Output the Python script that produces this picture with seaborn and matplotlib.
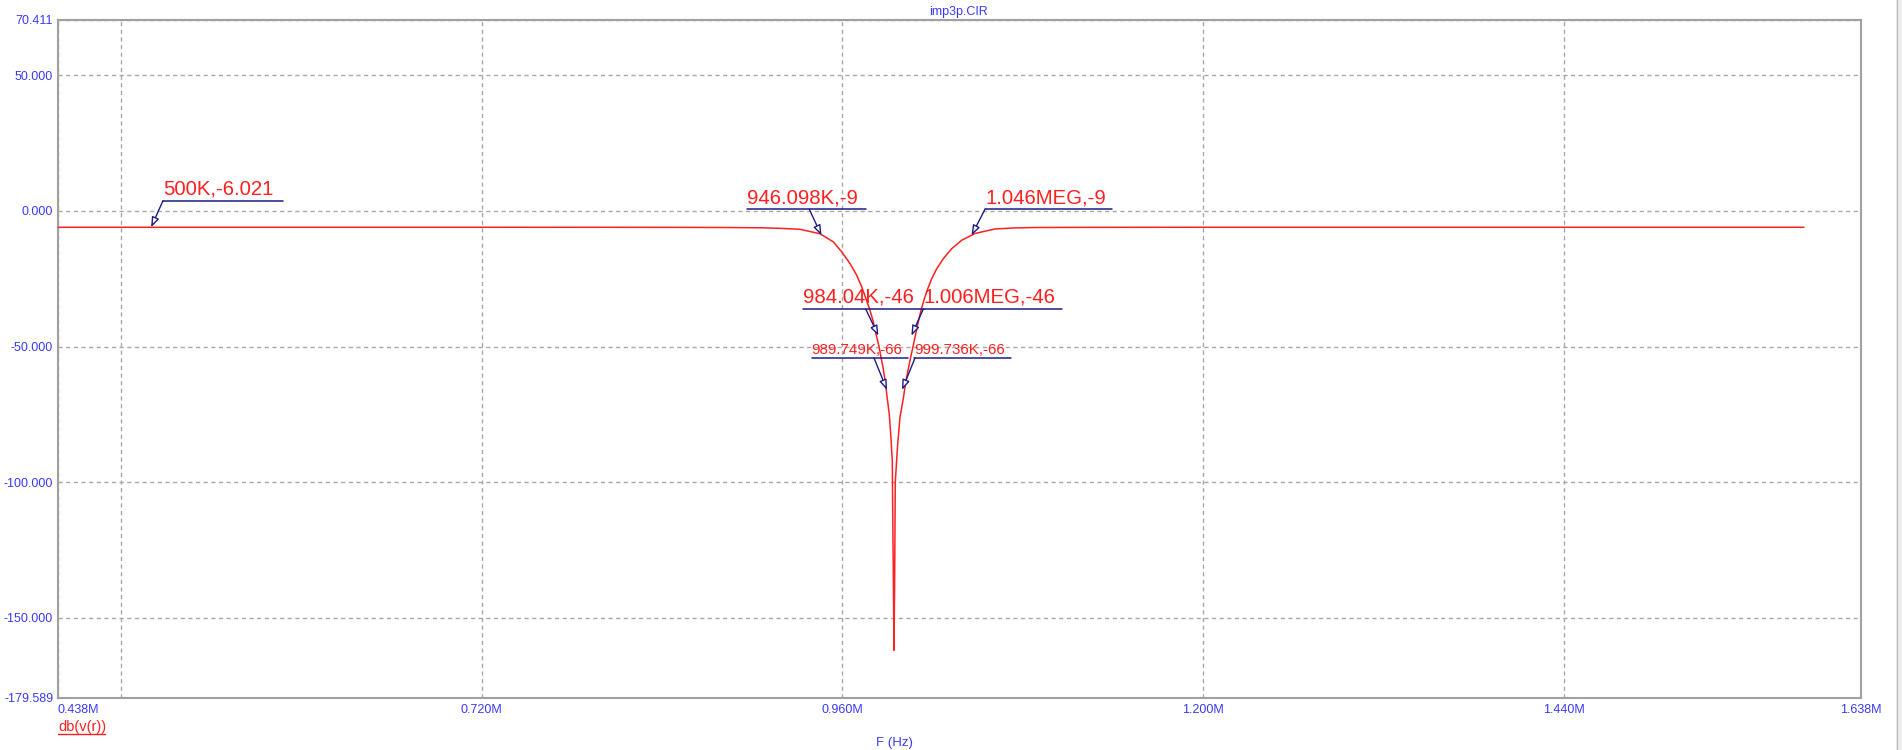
import numpy as np
import pandas as pd
import seaborn as sns
import matplotlib.pyplot as plt
from matplotlib.lines import Line2D
from matplotlib.patches import Rectangle

# -------------------------------
# Data (frequency in MHz, gain in dB)
# -------------------------------
freq_mhz = [
    0.400, 0.438, 0.500, 0.600, 0.700, 0.800, 0.850, 0.880, 0.90523, 0.91854,
    0.93185, 0.94516, 0.95401, 0.95960, 0.96512, 0.96958, 0.97291, 0.97577,
    0.97843, 0.98063, 0.98243, 0.98422, 0.98575, 0.98728, 0.98861, 0.98994,
    0.99128, 0.99241, 0.99327, 0.99354, 0.99394, 0.99440, 0.99487, 0.99507,
    0.99527, 0.99594, 0.99687, 0.99840, 1.00060, 1.00220, 1.00393, 1.00553,
    1.00726, 1.00885, 1.01058, 1.01238, 1.01458, 1.01684, 1.01950, 1.02283,
    1.02722, 1.03281, 1.03947, 1.04832, 1.06163, 1.07494, 1.090, 1.120,
    1.200, 1.300, 1.400, 1.500, 1.600,
]
gain_db = [
    -6.021, -6.021, -6.021, -6.021, -6.021, -6.03, -6.05, -6.10, -6.20, -6.40,
    -6.77, -8.40, -11.4, -15.1, -19.4, -23.7, -28.0, -32.4,
    -36.6, -40.9, -45.3, -49.5, -53.9, -58.2, -63.1, -69.2,
    -75.0, -84.0, -92.0, -110.0, -133.0, -162.0, -133.0, -116.0,
    -100.0, -94.0, -86.0, -76.0, -69.2, -63.1, -58.2, -53.9,
    -49.5, -45.3, -40.9, -36.6, -32.4, -28.7, -25.0, -21.3,
    -17.6, -13.9, -10.8, -8.30, -6.65, -6.25, -6.10, -6.05,
    -6.021, -6.021, -6.021, -6.021, -6.021,
]

# probe markers placed on the trace
marker_freq_mhz = [0.500, 0.946098, 1.046, 0.98404, 1.006, 0.989749, 0.999736]
marker_db = [-6.021, -9.0, -9.0, -46.0, -46.0, -66.0, -66.0]
marker_labels = [
    "500K,-6.021", "946.098K,-9", "1.046MEG,-9", "984.04K,-46",
    "1.006MEG,-46", "989.749K,-66", "999.736K,-66",
]

x_ticks = [0.438, 0.48, 0.72, 0.96, 1.20, 1.44, 1.638]
x_tick_labels = ["0.438M", "", "0.720M", "0.960M", "1.200M", "1.440M", "1.638M"]
y_ticks = [-179.589, -150, -100, -50, 0, 50, 70.411]

df = pd.DataFrame({"F": freq_mhz, "dB": gain_db})

# -------------------------------
# Layout of the marker labels (data coords)
# -------------------------------
label_x = [0.50788, 0.89637, 1.05498, 0.93364, 1.01437, 0.93963, 1.00772]
underline_end = [0.58775, 0.97577, 1.13950, 1.01440, 1.10622, 1.00392, 1.07228]
leader_x = [0.50788, 0.93804, 1.05498, 0.97557, 1.01390, 0.98110, 1.00839]
label_y = [3.78, 0.61, 0.61, -36.15, -36.15, -54.22, -54.22]
label_size = [14.7, 14.7, 14.7, 14.7, 14.7, 10.9, 10.9]

# -------------------------------
# Style
# -------------------------------
sns.set_style("white")
plt.rcParams["font.family"] = ["Liberation Sans", "DejaVu Sans"]

BLUE = "#3a3aff"
RED = "#ff2020"
NAVY = "#1c1c84"
GRID = "#a8a8a8"

fig = plt.figure(figsize=(19.02, 7.5), dpi=100)
W, H = 1902, 750
ax = fig.add_axes([58 / W, 1 - 698 / H, (1861 - 58) / W, (698 - 20) / H])

sns.lineplot(data=df, x="F", y="dB", color=RED, lw=1.1, estimator=None,
             sort=False, ax=ax, zorder=3)

ax.set_xlim(0.438, 1.638)
ax.set_ylim(-179.589, 70.411)
ax.set_xticks(x_ticks)
ax.set_xticklabels(x_tick_labels)
ax.set_yticks(y_ticks)
ax.set_yticklabels([f"{v:.3f}" for v in y_ticks])
ax.tick_params(axis="both", length=0, labelsize=9, colors=BLUE)
ax.tick_params(axis="x", pad=4)
ax.tick_params(axis="y", pad=3.5)
xt = ax.get_xticklabels()
xt[0].set_horizontalalignment("left")
ax.set_xlabel("")
ax.set_ylabel("")

ax.grid(True, color=GRID, lw=1.0, linestyle=(0, (3, 2.5)))
for s in ax.spines.values():
    s.set_color("#a0a0a0")
    s.set_linewidth(1.5)

# -------------------------------
# Probe markers: red label, navy underline, leader with hollow arrowhead
# -------------------------------
for i, txt in enumerate(marker_labels):
    uy = label_y[i]
    ax.add_line(Line2D([label_x[i], underline_end[i]], [uy, uy], color=NAVY,
                       lw=1.1, zorder=4))
    gap = 6 if label_size[i] > 12 else 4
    ax.annotate(txt, xy=(label_x[i], uy), xytext=(0, gap),
                textcoords="offset pixels", ha="left", va="baseline",
                color=RED, fontsize=label_size[i], zorder=5)
    ax.annotate("", xy=(marker_freq_mhz[i], marker_db[i]), xytext=(leader_x[i], uy),
                arrowprops=dict(arrowstyle="-|>,head_length=0.6,head_width=0.22",
                                fc="white", ec=NAVY, lw=1.0,
                                shrinkA=0, shrinkB=0), zorder=5)

# -------------------------------
# Titles and labels around the plot
# -------------------------------
fig.text(958.7 / W, 1 - 12 / H, "imp3p.CIR", color=BLUE, fontsize=9,
         ha="center", va="center")
fig.text(894 / W, 1 - 743 / H, "F (Hz)", color=BLUE, fontsize=9.5,
         ha="center", va="center")
fig.text(58 / W, 1 - 731 / H, "db(v(r))", color=RED, fontsize=10.5,
         ha="left", va="baseline")
fig.add_artist(Line2D([58 / W, 105 / W], [1 - 734 / H, 1 - 734 / H],
                      color=RED, lw=1.0, transform=fig.transFigure))

# window edge on the right
fig.add_artist(Rectangle((1896 / W, 0), 6 / W, 1, transform=fig.transFigure,
                         facecolor="#eeeeee", edgecolor="none"))
fig.add_artist(Line2D([1896.5 / W, 1896.5 / W], [0, 1], color="#c4c4c4",
                      lw=1.0, transform=fig.transFigure))

fig.savefig("out.png", dpi=100)
plt.close(fig)
